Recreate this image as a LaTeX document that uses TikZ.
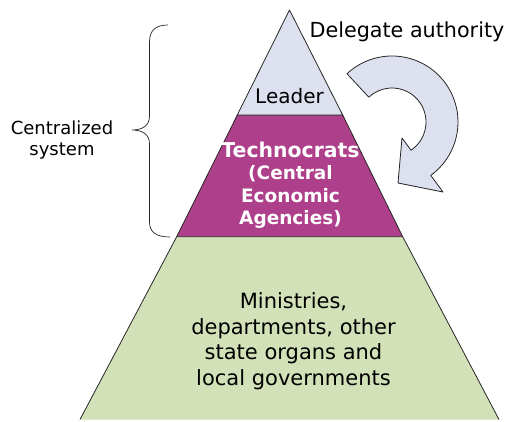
\documentclass[tikz,border=0pt]{standalone}
\usepackage{fontspec}
\setmainfont{DejaVu Sans}
\usetikzlibrary{calc}
\definecolor{lav}{HTML}{DDE0EE}
\definecolor{purp}{HTML}{AE3F8A}
\definecolor{grn}{HTML}{D3E1B9}
\begin{document}
\begin{tikzpicture}[x=1pt,y=-1pt,
  tier/.style={draw=black!85,line width=0.8pt,line join=round},
  lbl/.style={inner sep=0pt,anchor=base,align=center,text=black}]
\useasboundingbox (0,0) rectangle (511,421);
% pyramid tiers
\coordinate (apex) at (289.5,10);
\coordinate (l1) at (237.3,115); \coordinate (r1) at (342.7,115);
\coordinate (l2) at (176.7,236.7); \coordinate (r2) at (402.7,236.7);
\coordinate (l3) at (80,419.5); \coordinate (r3) at (499,419.5);
\fill[grn] (l2) -- (r2) -- (r3) -- (l3) -- cycle;
\draw[tier] (l3) -- (l2) (r2) -- (r3);
\filldraw[tier,fill=purp] (l1) -- (r1) -- (r2) -- (l2) -- cycle;
\filldraw[tier,fill=lav] (apex) -- (r1) -- (l1) -- cycle;
% curved arrow
\coordinate (c) at (392,122);
\filldraw[tier,fill=lav] ($(c)+(-133:66)$) arc[start angle=-133,end angle=54,radius=66]
  -- (443,192) -- (398,183) -- (402,138) -- ($(c)+(56:34)$)
  arc[start angle=56,end angle=-133,radius=34] -- cycle;
% brace
\draw[line width=0.7pt,black!85] (168,25) .. controls (156,25) and (149.5,30) .. (149.5,42)
  -- (149.5,116) .. controls (149.5,126) and (142,130) .. (132,130)
  .. controls (142,130) and (149.5,134) .. (149.5,144)
  -- (149.5,222) .. controls (149.5,232) and (156,237) .. (170,237);
% labels
\node[lbl,font=\fontsize{20}{24}\selectfont] (leader) at (289.5,103) {Leader};
\node[lbl,font=\fontsize{18.5}{22.5}\selectfont\bfseries,text=white] (tech) at (290.5,224.5)
  {{\fontsize{20.4}{23}\selectfont Technocrats}\\(Central\\Economic\\Agencies)};
\node[lbl,font=\fontsize{21}{25.5}\selectfont] (min) at (293.5,385)
  {Ministries,\\departments, other\\state organs and\\local governments};
\node[lbl,font=\fontsize{20.7}{25}\selectfont] (deleg) at (407,37) {Delegate authority};
\node[lbl,font=\fontsize{18}{21}\selectfont] (cent) at (62,155) {Centralized\\system};
\end{tikzpicture}
\end{document}
